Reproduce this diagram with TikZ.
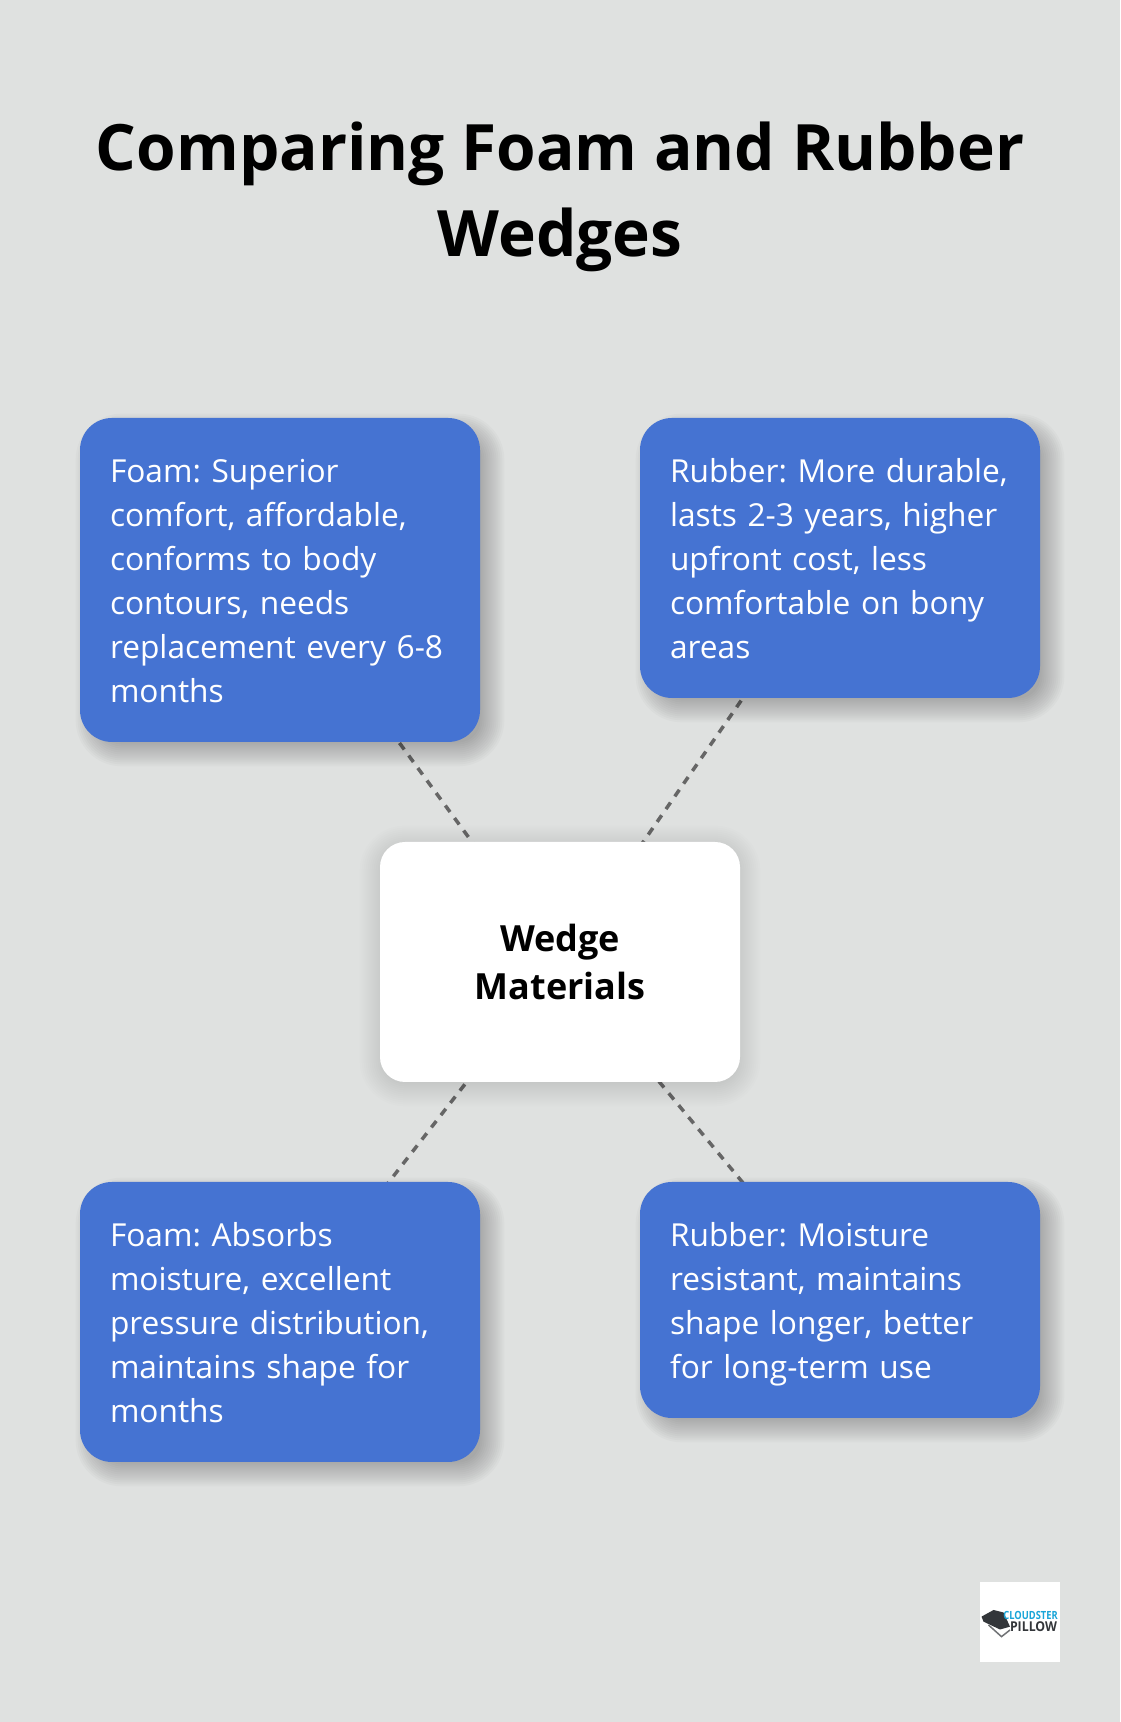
\documentclass[tikz,border=0pt]{standalone}
\usepackage{fontspec}
\setmainfont{Open Sans}
\frenchspacing
\usetikzlibrary{backgrounds,calc}
\definecolor{pagegrey}{HTML}{DFE1E0}
\definecolor{boxblue}{HTML}{4573D2}
\definecolor{dashgrey}{HTML}{666666}
\definecolor{logoblue}{HTML}{19A5D8}
\definecolor{logodark}{HTML}{33363A}
\tikzset{
    infobox/.style={fill=boxblue,text=white,rounded corners=0.64cm,minimum width=8cm,
        text width=6.8cm,inner xsep=0.6cm,inner ysep=0pt,align=left,
        execute at begin node={\rule{0pt}{21.5pt}},execute at end node=\strut,
        font=\fontsize{18.03}{25.05}\selectfont},
    hubbox/.style={fill=white,text=black,rounded corners=0.5cm,minimum width=7.2cm,
        minimum height=4.8cm,align=center,
        execute at begin node={\rule{0pt}{18.5pt}},
        font=\fontsize{20.5}{27.3}\selectfont\bfseries},
    titletext/.style={text=black,align=center,font=\fontsize{36.4}{49}\selectfont\bfseries},
    link/.style={draw=dashgrey,line width=0.07cm,dash pattern=on 0.16cm off 0.15cm},
}
% #1 node, #2 x offset, #3 y offset, #4 opacity, #5 corner radius, #6 spread
\newcommand{\softshadow}[6]{%
    \foreach \i [evaluate=\i as \g using {#6-0.04*\i}] in {0,...,12}{
        \fill[black,opacity=#4,rounded corners={#5cm+\g cm}]
            ($(#1.south west)+(#2-\g,#3-\g)$) rectangle ($(#1.north east)+(#2+\g,#3+\g)$);
    }
}
\begin{document}
\begin{tikzpicture}
    \coordinate (SW) at (0,0);
    \coordinate (NE) at (22.4,34.44);

    \node[titletext] (title) at (11.2,30.5){Comparing Foam and Rubber\\Wedges};

    \node[hubbox] (wedge) at (11.2,15.2){Wedge\\Materials};

    \node[infobox,minimum height=6.48cm] (foamcomfort) at (5.6,22.84){Foam: Superior\\comfort, affordable,\\conforms to body\\contours, needs\\replacement every 6-8\\months};
    \node[infobox,minimum height=5.6cm] (rubbercomfort) at (16.8,23.28){Rubber: More durable,\\lasts 2-3 years, higher\\upfront cost, less\\comfortable on bony\\areas};
    \node[infobox,minimum height=5.6cm] (foammoisture) at (5.6,8){Foam: Absorbs\\moisture, excellent\\pressure distribution,\\maintains shape for\\months};
    \node[infobox,minimum height=4.72cm] (rubbermoisture) at (16.8,8.44){Rubber: Moisture\\resistant, maintains\\shape longer, better\\for long-term use};

    \node[fill=white,minimum size=1.6cm,inner sep=0pt] (logo) at (20.4,2){};
    \fill[white] (19.77,1.94)--(20.03,1.707)--(20.3,1.9)--(20,2.1)--cycle;
    \draw[logodark!70,line width=0.03cm] (19.77,1.94)--(20.03,1.707)--(20.2,1.84);
    \fill[logodark] (19.63,2.107)--(19.87,2.24)--(20.07,2.19)--(20.2,1.907)--(20,1.85)--(19.67,2.007)--cycle;
    \node[text=logoblue,inner sep=0pt,xscale=0.83,font=\fontsize{6.4}{7}\selectfont\bfseries] (logoupper) at (20.61,2.13){CLOUDSTER};
    \node[text=logodark,inner sep=0pt,yscale=1.1,font=\fontsize{7}{8}\selectfont\bfseries] (logolower) at (20.67,1.907){PILLOW};

    \begin{scope}[on background layer]
        \fill[pagegrey] (SW) rectangle (NE);
        \draw[link] (wedge.center)--(foamcomfort.center);
        \draw[link] (wedge.center)--(rubbercomfort.center);
        \draw[link] (wedge.center)--(foammoisture.center);
        \draw[link] (wedge.center)--(rubbermoisture.center);
        \softshadow{foamcomfort}{0.2}{-0.2}{0.02}{0.64}{0.28}
        \softshadow{rubbercomfort}{0.2}{-0.2}{0.02}{0.64}{0.28}
        \softshadow{foammoisture}{0.2}{-0.2}{0.02}{0.64}{0.28}
        \softshadow{rubbermoisture}{0.2}{-0.2}{0.02}{0.64}{0.28}
        \softshadow{wedge}{0}{-0.08}{0.009}{0.5}{0.4}
    \end{scope}
    \useasboundingbox (SW) rectangle (NE);
\end{tikzpicture}
\end{document}
